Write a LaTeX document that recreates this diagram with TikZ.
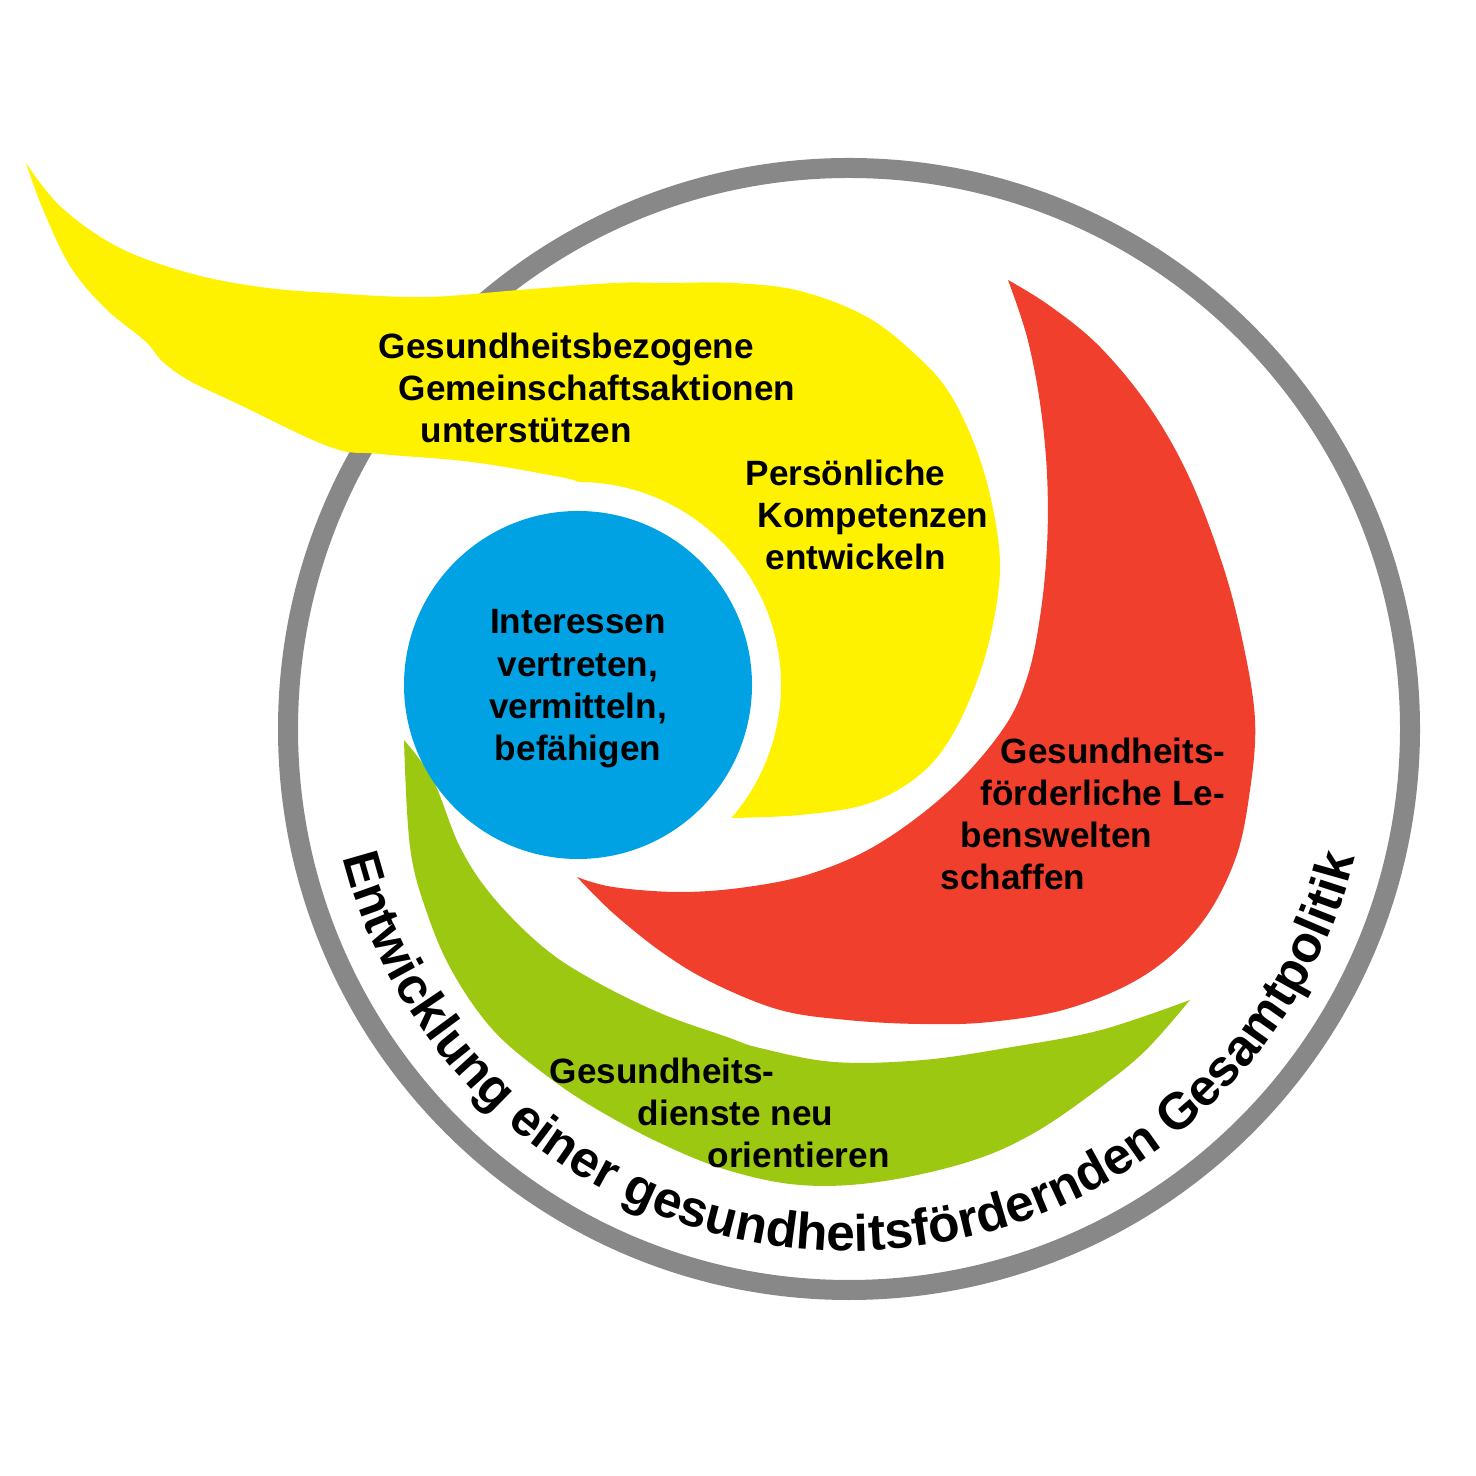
\documentclass[tikz,border=0pt]{standalone}
\usepackage{fontspec}
\setmainfont{Liberation Sans}
\usepackage{xcolor}
\usepackage{tikz}
\usetikzlibrary{decorations.text}

\definecolor{ringgray}{RGB}{136,136,136}
\definecolor{zoneyellow}{RGB}{255,242,0}
\definecolor{zonered}{RGB}{240,64,45}
\definecolor{zonegreen}{RGB}{157,200,18}
\definecolor{zoneblue}{RGB}{0,162,227}

\newcommand{\zonefont}{\fontsize{10}{12}\selectfont\bfseries}
\newcommand{\ringfont}{\fontsize{14.6}{17}\selectfont\bfseries}

\begin{document}
\begin{tikzpicture}[
    x=0.01cm, y=0.01cm,
    ringline/.style={draw=ringgray, line width=0.2cm},
    yellowzone/.style={fill=zoneyellow},
    redzone/.style={fill=zonered},
    greenzone/.style={fill=zonegreen},
    bluezone/.style={fill=zoneblue},
    zonetext/.style={font=\zonefont, inner sep=0pt, align=left, anchor=north west}
]
\useasboundingbox (0,0) rectangle (1476,1476);

% Outer ring
\draw[ringline] (849,747) circle[radius=561];

% Yellow wave
\fill[yellowzone] (578,994) arc[start angle=90, end angle=-41, radius=203]
  -- plot[smooth, tension=0.6] coordinates {(731,658) (800,661) (867,672) (917,699) (950,737) (977,795) (993,852) (1000,910) (993,967) (977,1025) (950,1082) (917,1120) (867,1159) (800,1185) (733,1193) (667,1193) (614,1193) (519,1186) (425,1179) (330,1183) (260,1189) (189,1203) (118,1229) (61,1269) (26,1313)}
  -- plot[smooth, tension=0.6] coordinates {(26,1313) (42,1269) (70,1210) (105,1168) (145,1135) (163,1114) (190,1095) (236,1073) (330,1029) (380,1022) (472,1014) (560,999) (578,994)}
  -- cycle;

% Red wave
\fill[redzone] plot[smooth, tension=0.6] coordinates {(1008,1196) (1050,1170) (1100,1129) (1150,1068) (1190,997) (1223,910) (1243,833) (1255,756) (1250,686) (1235,616) (1200,551) (1145,501) (1070,468) (990,454) (920,452) (847,456) (780,466) (713,493) (663,523) (613,563) (577,599)}
  -- plot[smooth, tension=0.6] coordinates {(577,599) (613,589) (680,584) (747,589) (813,603) (880,633) (950,686) (1003,747) (1027,798) (1040,859) (1047,930) (1047,1002) (1040,1073) (1027,1139) (1008,1196)}
  -- cycle;

% Green wave
\fill[greenzone] plot[smooth, tension=0.6] coordinates {(404,736) (410,629) (427,563) (453,503) (493,446) (543,403) (593,369) (660,333) (727,306) (800,291) (878,294) (968,314) (1034,343) (1101,389) (1146,426) (1190,476)}
  -- plot[smooth, tension=0.6] coordinates {(1190,476) (1101,446) (1012,429) (923,416) (834,414) (760,428) (727,439) (660,463) (593,496) (543,529) (493,579) (460,629) (433,696) (404,736)}
  -- cycle;

% Centre
\fill[bluezone] (578,791) circle[radius=174];

% Labels
\node[zonetext] (community) at (378,1144) {Gesundheitsbezogene\\\hspace*{0.2cm}Gemeinschaftsaktionen\\\hspace*{0.42cm}unterstützen};
\node[zonetext] (skills) at (745,1017) {Persönliche\\\hspace*{0.12cm}Kompetenzen\\\hspace*{0.2cm}entwickeln};
\node[zonetext, align=center, anchor=north] (advocacy) at (578,867) {Interessen\\vertreten,\\vermitteln,\\befähigen};
\node[zonetext] (settings) at (940,739) {\hspace*{0.6cm}Gesundheits-\\\hspace*{0.4cm}förderliche Le-\\\hspace*{0.2cm}benswelten\\schaffen};
\node[zonetext] (services) at (549,419) {Gesundheits-\\\hspace*{0.88cm}dienste neu\\\hspace*{1.58cm}orientieren};

% Ring text
\path[decorate, decoration={text along path, text align=center,
    text={|\ringfont|Entwicklung einer gesundheitsfördernden Gesamtpolitik}}]
  (327,747) arc[start angle=180, end angle=360, radius=522];

\end{tikzpicture}
\end{document}
